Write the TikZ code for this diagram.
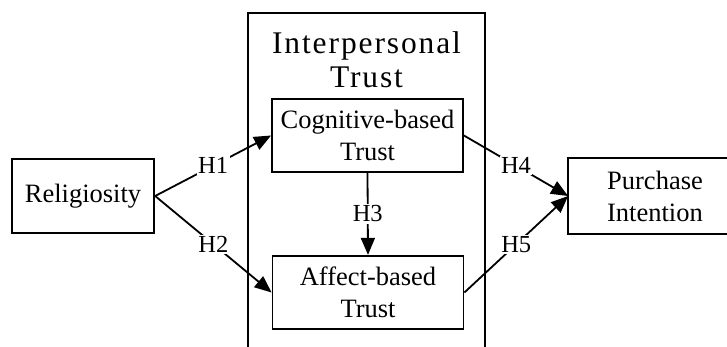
\documentclass[tikz,border=0pt]{standalone}
\usepackage{fontspec}
\setmainfont{Liberation Serif}
\newfontfamily\titlefont[LetterSpace=6]{Liberation Serif}
\usetikzlibrary{arrows.meta}
\begin{document}
\begin{tikzpicture}[x=1pt,y=-1pt,line width=1.8pt,
  box/.style={draw,minimum width=191pt,minimum height=73.5pt,inner sep=0pt,align=center,font=\fontsize{26.5}{32}\selectfont},
  hlab/.style={fill=white,inner sep=1.5pt,font=\fontsize{24.5}{28}\selectfont},
  arr/.style={-{Triangle[length=17pt,width=14pt]}}]
\useasboundingbox (0,0) rectangle (727,347);
% outer group box (open at the bottom)
\coordinate (gbl) at (248,347);
\coordinate (gtl) at (248,12.7);
\coordinate (gtr) at (485,12.7);
\coordinate (gbr) at (485,347);
\draw (gbl) -- (gtl) -- (gtr) -- (gbr);
\node[align=center,font=\titlefont\fontsize{31.5}{34.5}\selectfont] (title) at (366.5,59.5) {Interpersonal\\Trust};
% boxes
\node[box] (cog) at (367.5,135.5) {Cognitive-based\\Trust};
\node[box] (aff) at (368,292.5) {Affect-based\\Trust};
\node[draw,minimum width=142.5pt,minimum height=73.5pt,inner sep=0pt,font=\fontsize{26.5}{32}\selectfont] (rel) at (83,196) {Religiosity};
\node[minimum width=172pt,minimum height=73.5pt,inner sep=0pt,align=center,font=\fontsize{26.5}{32}\selectfont] (pur) at (655,196) {Purchase\\Intention};
\draw (727,0 |- pur.north) -- (pur.north west) -- (pur.south west) -- (727,0 |- pur.south);
% connectors
\draw[arr] (rel.east) -- node[hlab] {H1} (cog.west);
\draw[arr] (rel.east) -- node[hlab] {H2} (aff.west);
\draw[arr] (cog.south) -- node[hlab] {H3} (aff.north);
\draw[arr] (cog.east) -- node[hlab] {H4} (pur.west);
\draw[arr] (aff.east) -- node[hlab] {H5} (pur.west);
\end{tikzpicture}
\end{document}
